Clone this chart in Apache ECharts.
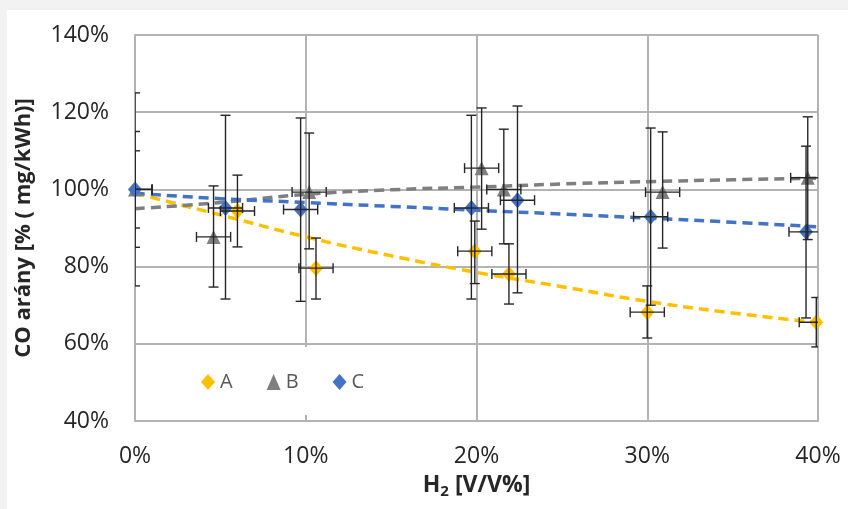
<!DOCTYPE html>
<html>
<head>
<meta charset="utf-8">
<script src="https://cdn.jsdelivr.net/npm/echarts@6/dist/echarts.min.js"></script>
<style>
  html, body { margin: 0; padding: 0; background: #f2f2f2; }
  #chart { position: absolute; left: 7px; top: 10px; width: 841px; height: 499px; background: #fff; }
</style>
</head>
<body>
<div id="chart"></div>
<script>
// measured points: x = H2 %, y = CO ratio %, error bars as low/high bounds
var seriesNames = ['A', 'B', 'C'];
var colors = ['#FFC000', '#7F7F7F', '#4472C4'];

var aX = [0, 6.0, 10.6, 19.9, 21.9, 30.0, 39.9];
var aY = [100, 94.4, 79.6, 84.0, 78.1, 68.2, 65.6];
var aYlo = [90, 85.1, 71.6, 75.6, 70.3, 61.5, 59.2];
var aYhi = [110, 103.7, 87.4, 91.8, 85.9, 75.0, 72.0];

var bX = [0, 4.6, 10.2, 20.3, 21.6, 30.9, 39.4];
var bY = [100, 87.7, 99.3, 105.5, 100, 99.3, 103];
var bYlo = [85, 74.7, 84.6, 89.7, 85.9, 84.8, 87];
var bYhi = [115, 100.9, 114.6, 121.1, 115.6, 114.9, 118.8];

var cX = [0, 5.3, 9.7, 19.7, 22.4, 30.2, 39.3];
var cY = [100, 95.2, 94.8, 95.2, 97.2, 92.9, 89];
var cYlo = [75, 71.6, 71, 71.6, 73.2, 70, 66.7];
var cYhi = [125, 119.2, 118.5, 119.2, 121.6, 115.9, 111.2];

var xErr = 1; // horizontal error, +/- percentage points

// trend lines
var trendX = [0, 5, 10, 15, 20, 25, 30, 35, 40];
var aTrend = [99, 93.4, 87.7, 82.8, 78.5, 74.8, 71, 68, 65.5];
var bTrend = [95, 96.6, 98.7, 99.9, 100.6, 101.4, 102, 102.5, 102.9];
var cTrend = [99, 97.6, 96.6, 95.6, 94.6, 93.6, 92.6, 91.5, 90.3];

var FONT = '"Open Sans", Lato, sans-serif';
var TXT = '#262626';
var GRID = '#b3b3b3';

function pairs(xs, ys) {
  return xs.map(function (x, i) { return [x, ys[i]]; });
}
function errRows(xs, ys, lo, hi) {
  return xs.map(function (x, i) { return [x, ys[i], x - xErr, x + xErr, lo[i], hi[i]]; });
}

function renderErr(params, api) {
  var x = api.value(0), y = api.value(1);
  var p = api.coord([x, y]);
  var top = api.coord([x, api.value(5)]);
  var bot = api.coord([x, api.value(4)]);
  var left = api.coord([api.value(2), y]);
  var right = api.coord([api.value(3), y]);
  var c = 5;
  var st = { stroke: '#262626', lineWidth: 1.4 };
  function ln(x1, y1, x2, y2) {
    return { type: 'line', shape: { x1: x1, y1: y1, x2: x2, y2: y2 }, style: st };
  }
  return {
    type: 'group',
    children: [
      ln(p[0], top[1], p[0], bot[1]),
      ln(p[0] - c, top[1], p[0] + c, top[1]),
      ln(p[0] - c, bot[1], p[0] + c, bot[1]),
      ln(left[0], p[1], right[0], p[1]),
      ln(left[0], p[1] - c, left[0], p[1] + c),
      ln(right[0], p[1] - c, right[0], p[1] + c)
    ]
  };
}

var xs = [aX, bX, cX], ys = [aY, bY, cY];
var los = [aYlo, bYlo, cYlo], his = [aYhi, bYhi, cYhi];
var trends = [aTrend, bTrend, cTrend];
var symbols = ['diamond', 'triangle', 'diamond'];
var sizes = [[14, 16], 14, [14, 16]];

var series = [];
trends.forEach(function (t, i) {
  series.push({
    name: seriesNames[i] + ' trend', type: 'line', data: pairs(trendX, t),
    smooth: true, symbol: 'none', z: 2, silent: true,
    lineStyle: { color: colors[i], width: 3.5, type: [10, 6] }
  });
});
[0, 1, 2].forEach(function (i) {
  series.push({
    name: seriesNames[i], type: 'scatter', data: pairs(xs[i], ys[i]),
    symbol: symbols[i], symbolSize: sizes[i], z: 3,
    itemStyle: { color: colors[i], opacity: 1 }
  });
});
[0, 1, 2].forEach(function (i) {
  series.push({
    name: seriesNames[i] + ' err', type: 'custom', renderItem: renderErr,
    data: errRows(xs[i], ys[i], los[i], his[i]), z: 4, clip: true, silent: true,
    encode: { x: 0, y: 1 }
  });
});

var chart = echarts.init(document.getElementById('chart'), null, { renderer: 'canvas' });
chart.setOption({
  animation: false,
  grid: { left: 128, right: 30, top: 25, bottom: 88, outerBoundsMode: 'none', containLabel: false },
  legend: {
    data: seriesNames, left: 182, top: 337,
    backgroundColor: '#fff', padding: [25, 12, 23, 12],
    itemWidth: 14, itemHeight: 16, itemGap: 34,
    textStyle: { fontFamily: FONT, fontSize: 20, color: '#595959' }
  },
  xAxis: {
    type: 'value', min: 0, max: 40, interval: 10,
    name: '{n|H}{s|2}{n| [V/V%]}', nameLocation: 'middle', nameGap: 51,
    nameTextStyle: {
      rich: {
        n: { fontFamily: FONT, fontSize: 23, fontWeight: 'bold', color: TXT },
        s: { fontFamily: FONT, fontSize: 15, fontWeight: 'bold', color: TXT, padding: [12, 0, 0, 0] }
      }
    },
    axisLine: { lineStyle: { color: GRID, width: 2 } },
    axisTick: { show: false },
    axisLabel: { fontFamily: FONT, fontSize: 23, color: TXT, margin: 24, formatter: '{value}%' },
    splitLine: { lineStyle: { color: GRID, width: 2 } }
  },
  yAxis: {
    type: 'value', min: 40, max: 140, interval: 20,
    name: 'CO arány [% ( mg/kWh)]', nameLocation: 'middle', nameGap: 100,
    nameTextStyle: { fontFamily: FONT, fontSize: 22, fontWeight: 'bold', color: TXT },
    axisLine: { show: true, lineStyle: { color: GRID, width: 2 } },
    axisTick: { show: false },
    axisLabel: { fontFamily: FONT, fontSize: 23, color: TXT, margin: 26, formatter: '{value}%' },
    splitLine: { lineStyle: { color: GRID, width: 2 } }
  },
  series: series
});
</script>
</body>
</html>
